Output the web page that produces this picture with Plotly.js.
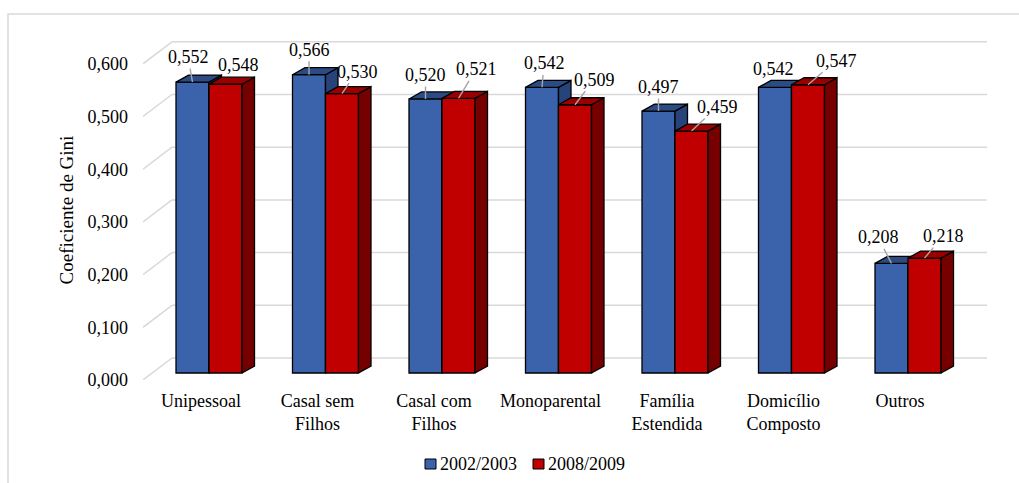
<!DOCTYPE html>
<html>
<head>
<meta charset="utf-8">
<script src="https://cdn.plot.ly/plotly-3.0.1.min.js"></script>
<style>html,body{margin:0;padding:0;background:#fff;}#chart{width:1019px;height:483px;}</style>
</head>
<body>
<div id="chart"></div>
<script>
// ---- data ----
const categories = ['Unipessoal', 'Casal sem<br>Filhos', 'Casal com<br>Filhos', 'Monoparental', 'Família<br>Estendida', 'Domicílio<br>Composto', 'Outros'];
const seriesNames = ['2002/2003', '2008/2009'];
const values2002 = [0.552, 0.566, 0.520, 0.542, 0.497, 0.542, 0.208];
const values2008 = [0.548, 0.530, 0.521, 0.509, 0.459, 0.547, 0.218];
const yTickVals = [0, 0.1, 0.2, 0.3, 0.4, 0.5, 0.6];

// ---- label placement (pixel offsets from the top-front edge of each bar) ----
const labelOff2002 = [[-4.5, -25, 1], [0, -25, 1], [0, -24, 1], [2, -24, 1], [0, -24, 1], [-2, -18, 0], [-13.5, -26, 1]];
const labelOff2008 = [[12.5, -19, 0], [15, -22, 1], [17.5, -29, 1], [19, -25, 1], [25.5, -24, 1], [28, -24, 1], [18.5, -22, 1]];

// ---- geometry / style ----
const W = 1019, H = 483;
const M = {l: 143, r: 32, t: 40, b: 103};
const plotW = W - M.l - M.r, plotH = H - M.t - M.b;
const xRange = [-0.5665, 6.6781];
const yRange = [-0.01328, 0.63188];
const pxX = plotW / (xRange[1] - xRange[0]);
const pxY = plotH / (yRange[1] - yRange[0]);
const barW = 33 / pxX;
const bdx = 12.5 / pxX, bdy = 7 / pxY;          // bar depth
const wallX = xRange[0] + 29 / pxX;             // back wall position
const frontDy = -7 / pxY, backDy = 15 / pxY;
const FONT = 'Liberation Serif, Times New Roman, serif';
const colors = {
  blue: {front: '#3A63AB', top: '#2C4B83', side: '#26437A'},
  red: {front: '#C00000', top: '#9A0000', side: '#760000'}
};
const idx = categories.map((_, i) => i);

function faces(vals, sign) {
  const top = {x: [], y: []}, side = {x: [], y: []};
  vals.forEach((v, i) => {
    const xl = sign < 0 ? i - barW : i;
    const xr = xl + barW;
    top.x.push(xl, xr, xr + bdx, xl + bdx, xl, null);
    top.y.push(v, v, v + bdy, v + bdy, v, null);
    side.x.push(xr, xr, xr + bdx, xr + bdx, xr, null);
    side.y.push(0, v, v + bdy, bdy, 0, null);
  });
  return {top, side};
}

function seriesTraces(vals, sign, col, name, xa, ya) {
  const f = faces(vals, sign);
  return [
    {type: 'bar', name: name, x: idx, y: vals, width: barW, offset: sign < 0 ? -barW : 0,
     marker: {color: col.front, line: {color: '#000', width: 1.3}}, xaxis: xa, yaxis: ya,
     showlegend: false, hoverinfo: 'skip'},
    {type: 'scatter', mode: 'lines', x: f.side.x, y: f.side.y, fill: 'toself', fillcolor: col.side,
     line: {color: '#000', width: 1.3}, xaxis: xa, yaxis: ya, showlegend: false, hoverinfo: 'skip'},
    {type: 'scatter', mode: 'lines', x: f.top.x, y: f.top.y, fill: 'toself', fillcolor: col.top,
     line: {color: '#000', width: 1.3}, xaxis: xa, yaxis: ya, showlegend: false, hoverinfo: 'skip'}
  ];
}

const traces = [].concat(
  seriesTraces(values2002, -1, colors.blue, seriesNames[0], 'x', 'y'),
  seriesTraces(values2008, 1, colors.red, seriesNames[1], 'x2', 'y2')
);

// back-wall gridlines
const shapes = [];
yTickVals.forEach(t => {
  shapes.push({type: 'line', xref: 'x', yref: 'y', x0: xRange[0], y0: t + frontDy, x1: wallX, y1: t + backDy,
               line: {color: '#D9D9D9', width: 1.5}, layer: 'below'});
  shapes.push({type: 'line', xref: 'x', yref: 'y', x0: wallX, y0: t + backDy, x1: xRange[1], y1: t + backDy,
               line: {color: '#D9D9D9', width: 1.5}, layer: 'below'});
});
const px2pX = px => (px - M.l) / plotW;
const px2pY = py => (H - M.b - py) / plotH;
// chart border
shapes.push({type: 'rect', xref: 'paper', yref: 'paper', x0: px2pX(8), x1: px2pX(1040), y0: px2pY(510), y1: px2pY(14),
             line: {color: '#D9D9D9', width: 1.5}, layer: 'below'});

// data labels
const annotations = [];
function addLabels(vals, offs, sign) {
  vals.forEach((v, i) => {
    const x = i + sign * barW / 2;
    const o = offs[i];
    const txt = v.toFixed(3).replace('.', ',');
    if (o[2]) {
      annotations.push({x: x, y: v, xref: 'x', yref: 'y', text: txt, showarrow: true, ax: o[0], ay: o[1],
        arrowhead: 0, arrowwidth: 1.4, arrowcolor: '#A6A6A6', standoff: 0, font: {family: FONT, size: 18, color: '#000'}});
    } else {
      annotations.push({x: x, y: v, xref: 'x', yref: 'y', text: txt, showarrow: false, xshift: o[0], yshift: -o[1],
        xanchor: 'center', yanchor: 'middle', font: {family: FONT, size: 18, color: '#000'}});
    }
  });
}
addLabels(values2002, labelOff2002, -1);
addLabels(values2008, labelOff2008, 1);

// legend
const legendItems = [
  {name: seriesNames[0], color: colors.blue.front, x: 425},
  {name: seriesNames[1], color: colors.red.front, x: 533}
];
legendItems.forEach(it => {
  shapes.push({type: 'rect', xref: 'paper', yref: 'paper', x0: px2pX(it.x), x1: px2pX(it.x + 11),
               y0: px2pY(469), y1: px2pY(459), fillcolor: it.color, line: {color: '#000', width: 1}});
  annotations.push({xref: 'paper', yref: 'paper', x: px2pX(it.x + 13), y: px2pY(464), xanchor: 'left', yanchor: 'middle',
                    text: it.name, showarrow: false, font: {family: FONT, size: 18, color: '#000'}});
});

const layout = {
  width: W, height: H,
  margin: M,
  paper_bgcolor: '#fff', plot_bgcolor: 'rgba(0,0,0,0)',
  separators: ',.',
  showlegend: false,
  font: {family: FONT, size: 18, color: '#000'},
  xaxis: {range: xRange, tickvals: idx, ticktext: categories, showgrid: false, zeroline: false, showline: false,
          ticks: '', ticklabelshift: -8, ticklabelstandoff: 8, tickfont: {family: FONT, size: 18, color: '#000'}, fixedrange: true},
  yaxis: {range: yRange, tickvals: yTickVals, tickformat: '.3f', showgrid: false, zeroline: false, showline: false,
          ticks: '', ticklabelshift: 7, ticklabelstandoff: 14, tickfont: {family: FONT, size: 18, color: '#000'},
          title: {text: 'Coeficiente de Gini', font: {family: FONT, size: 19, color: '#000'}, standoff: 8}, fixedrange: true},
  xaxis2: {range: xRange, overlaying: 'x', visible: false},
  yaxis2: {range: yRange, overlaying: 'y', visible: false},
  shapes: shapes,
  annotations: annotations
};

Plotly.newPlot('chart', traces, layout, {staticPlot: true, displayModeBar: false});
</script>
</body>
</html>
